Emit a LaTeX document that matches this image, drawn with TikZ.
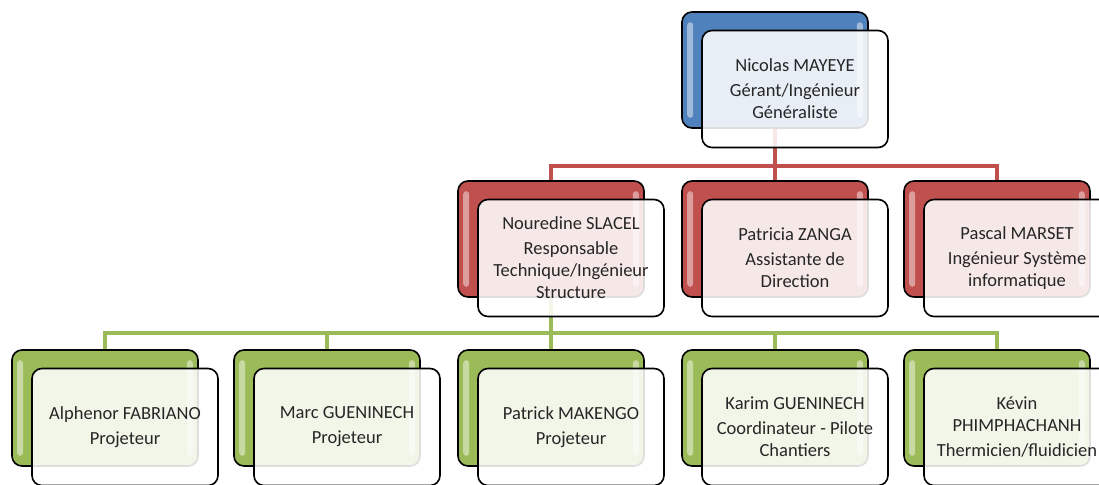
\documentclass[tikz,border=0pt]{standalone}
\usepackage{fontspec}
\setmainfont{Carlito}
\usetikzlibrary{calc}
\pgfdeclarelayer{background}
\pgfsetlayers{background,main}
\definecolor{offblue}{HTML}{4F81BD}
\definecolor{offred}{HTML}{C0504D}
\definecolor{offgreen}{HTML}{9BBB59}
\definecolor{txt}{HTML}{262626}
\tikzset{
  backbox/.style={draw=black, line width=1.6pt, rounded corners=10pt,
    minimum width=186pt, minimum height=116pt, inner sep=0pt},
  frontbox/.style={draw=black, line width=1.6pt, rounded corners=10pt,
    minimum width=186pt, minimum height=117pt, inner sep=0pt,
    fill=white, fill opacity=0.87, text opacity=1, text=txt,
    align=center, font=\fontsize{18.5}{22}\selectfont},
  gloss/.style={fill=white, fill opacity=0.45, draw=none, rounded corners=3pt},
  redline/.style={draw=offred, line width=4pt},
  greenline/.style={draw=offgreen, line width=4pt},
}
\newcommand\orgunit[5]{%
  \node[backbox, fill=#4] (#1b) at (#2,#3) {};
  \fill[gloss] ($(#1b.north west)+(6,11)$) rectangle ($(#1b.south west)+(12,-11)$);
  \fill[gloss] ($(#1b.north east)+(-12,11)$) rectangle ($(#1b.south east)+(-6,-11)$);
  \node[frontbox] (#1) at ($(#1b.center)+(20,19)$) {#5};
}
\begin{document}
\begin{tikzpicture}[x=1pt,y=-1pt]
\useasboundingbox (0,0) rectangle (1099,484);
% level 1
\orgunit{top}{775}{70}{offblue}{Nicolas MAYEYE\\[3pt]G\'erant/Ing\'enieur\\G\'en\'eraliste}
% level 2
\orgunit{nour}{551}{239}{offred}{Nouredine SLACEL\\[3pt]Responsable\\Technique/Ing\'enieur\\Structure}
\orgunit{patr}{775}{239}{offred}{Patricia ZANGA\\[3pt]Assistante de\\Direction}
\orgunit{pasc}{997}{239}{offred}{Pascal MARSET\\[3pt]Ing\'enieur Syst\`eme\\informatique}
% level 3
\orgunit{alph}{105}{408}{offgreen}{Alphenor FABRIANO\\[3pt]Projeteur}
\orgunit{marc}{327}{408}{offgreen}{Marc GUENINECH\\[3pt]Projeteur}
\orgunit{patk}{551}{408}{offgreen}{Patrick MAKENGO\\[3pt]Projeteur}
\orgunit{kari}{775}{408}{offgreen}{Karim GUENINECH\\[3pt]Coordinateur - Pilote\\Chantiers}
\orgunit{kevi}{997}{408}{offgreen}{K\'evin\\PHIMPHACHANH\\[3pt]Thermicien/fluidicien}
% connectors
\begin{pgfonlayer}{background}
\foreach \c in {nour,patr,pasc}
  \draw[redline] (topb.center) -- ($(topb.south)+(0,37)$) -| (\c b.north);
\foreach \c in {alph,marc,patk,kari,kevi}
  \draw[greenline] (nourb.center) -- ($(nourb.south)+(0,35)$) -| (\c b.north);
\end{pgfonlayer}
\end{tikzpicture}
\end{document}
